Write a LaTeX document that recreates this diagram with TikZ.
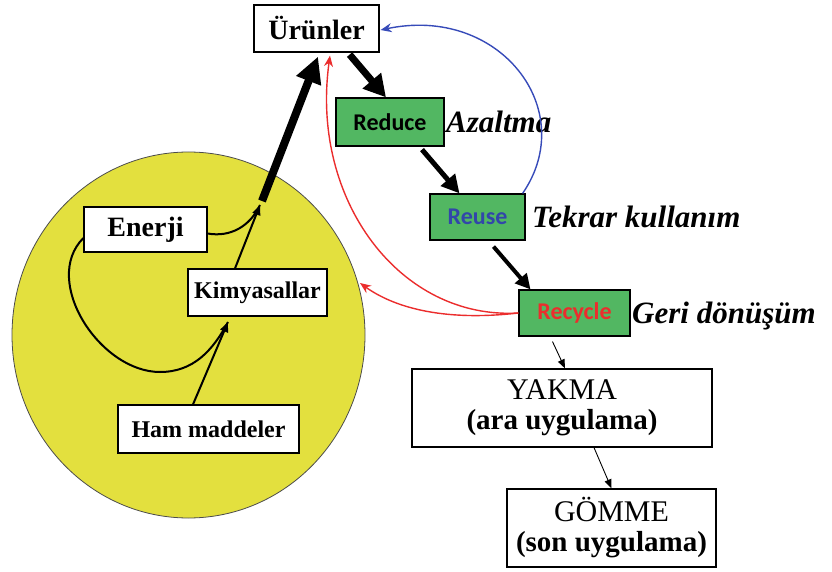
\documentclass[tikz,border=0pt]{standalone}
\usepackage{fontspec}
\setmainfont{Liberation Serif}
\newfontfamily\calibrifont{Carlito}
\usetikzlibrary{arrows.meta,shapes.geometric}
\definecolor{boxgreen}{RGB}{82,183,98}
\definecolor{poolyellow}{RGB}{227,224,62}
\definecolor{reuseblue}{RGB}{50,70,170}
\definecolor{arcblue}{RGB}{55,75,185}
\definecolor{arcred}{RGB}{235,45,45}
\begin{document}
\begin{tikzpicture}[x=1pt,y=-1pt,
  box/.style={draw=black,line width=1.2pt,fill=white,inner sep=0pt,align=center},
  twoline/.style={box,font=\fontsize{30}{30}\selectfont},
  greenbox/.style={draw=black,line width=1.2pt,fill=boxgreen,inner sep=0pt,
    font=\calibrifont\bfseries\fontsize{24}{26}\selectfont},
  tag/.style={anchor=base west,inner sep=0pt,font=\bfseries\itshape\fontsize{31}{33}\selectfont},
  hugearr/.style={line width=8pt,-{Triangle[length=26pt,width=25pt]}},
  bigarr/.style={line width=7pt,-{Triangle[length=22pt,width=23pt]}},
  midarr/.style={line width=5pt,-{Triangle[length=18pt,width=18pt]}},
  smallarr/.style={line width=4pt,-{Triangle[length=15pt,width=15pt]}},
  thinarr/.style={line width=0.9pt,-{Triangle[length=9pt,width=7pt]}},
  poolarr/.style={line width=2pt,-{Triangle[length=10pt,width=8pt]}},
  curvearr/.style={line width=1.4pt,-{Stealth[length=11pt,width=9pt]}},
]
\useasboundingbox (0,0) rectangle (832,572);

% pool
\node[ellipse,draw=black!70,line width=0.8pt,fill=poolyellow,inner sep=0pt,
  minimum width=353pt,minimum height=366pt] (pool) at (188.5,335) {};

% boxes
\node[box,minimum width=125pt,minimum height=47pt,font=\bfseries\fontsize{28}{30}\selectfont] (urun) at (316.5,28.5) {Ürünler};
\node[greenbox,minimum width=108pt,minimum height=48pt] (red) at (390,122) {Reduce};
\node[greenbox,minimum width=95pt,minimum height=46pt,text=reuseblue] (reuse) at (477.5,217) {Reuse};
\node[greenbox,minimum width=111pt,minimum height=46pt,text=arcred] (rec) at (574.5,313) {Recycle};
\node[twoline,minimum width=300pt,minimum height=78pt] (yak) at (562,408)
  {YAKMA\\{\bfseries\fontsize{29}{30}\selectfont (ara uygulama)}};
\node[twoline,minimum width=209pt,minimum height=78pt] (gom) at (611.5,528)
  {GÖMME\\{\bfseries\fontsize{29}{30}\selectfont (son uygulama)}};
\node[box,minimum width=123pt,minimum height=45pt,font=\bfseries\fontsize{28}{30}\selectfont] (ener) at (145.5,229.5) {Enerji};
\node[box,minimum width=139pt,minimum height=47pt,font=\bfseries\fontsize{24}{26}\selectfont] (kim) at (257.5,292.5) {Kimyasallar};
\node[box,minimum width=181pt,minimum height=48pt,font=\bfseries\fontsize{24}{26}\selectfont] (ham) at (208.5,429) {Ham maddeler};

% italic labels
\node[tag] (azl) at (446,133) {Azaltma};
\node[tag] (tek) at (532,227) {Tekrar kullanım};
\node[tag] (geri) at (632,323) {Geri dönüşüm};

% coordinates
\coordinate (merge) at (260,205);
\coordinate (thickstart) at (262,201);
\coordinate (kimbot) at (228,322);
\coordinate (kimin) at (360,283);

% pool arrows
\draw[poolarr] ([xshift=-15.5pt]ham.north) -- (kimbot);
\draw[line width=2pt] ([yshift=-8.5pt]ener.west) to[out=-135,in=180] (160,372) to[out=0,in=-118] (kimbot);
\draw[poolarr] ([xshift=-22.5pt]kim.north) -- (merge);
\draw[line width=2pt] ([yshift=-4pt]ener.east) to[out=-10,in=-115] (merge);
\draw[hugearr] (thickstart) -- ([xshift=1.5pt,yshift=-4pt]urun.south);

% main chain
\draw[bigarr] ([xshift=-30pt,yshift=-2pt]urun.south east) -- ([xshift=-4pt]red.north);
\draw[midarr] ([xshift=32pt,yshift=-3pt]red.south) -- ([xshift=-18pt]reuse.north);
\draw[smallarr] ([xshift=16pt,yshift=-6pt]reuse.south) -- ([xshift=-44pt]rec.north);
\draw[thinarr] ([xshift=-22pt,yshift=-5pt]rec.south) -- ([xshift=3pt]yak.north);
\draw[thinarr] ([xshift=32pt]yak.south) -- (gom.north);

% feedback arcs
\draw[curvearr,arcblue] ([xshift=-3pt]reuse.north east) .. controls (580,110) and (500,5) .. ([xshift=1pt,yshift=-1.5pt]urun.east);
\draw[curvearr,arcred] (rec.west) .. controls (400,320) and (310,200) .. ([xshift=13.5pt,yshift=-3pt]urun.south);
\draw[curvearr,arcred] (rec.west) .. controls (440,322) and (392,306) .. (kimin);
\end{tikzpicture}
\end{document}
